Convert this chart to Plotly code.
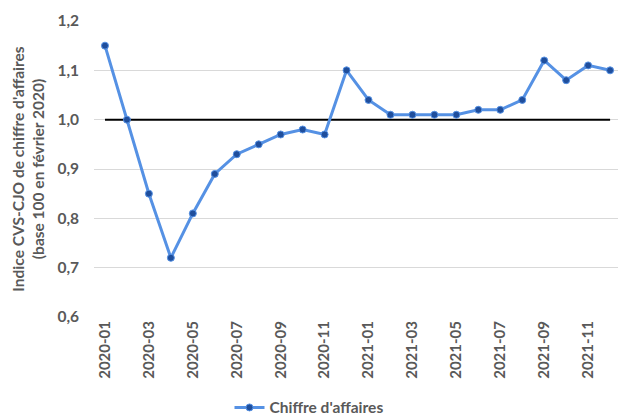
import plotly.graph_objects as go

months = ["2020-01","2020-02","2020-03","2020-04","2020-05","2020-06","2020-07","2020-08",
          "2020-09","2020-10","2020-11","2020-12","2021-01","2021-02","2021-03","2021-04",
          "2021-05","2021-06","2021-07","2021-08","2021-09","2021-10","2021-11","2021-12"]
ca = [1.15, 1.00, 0.85, 0.72, 0.81, 0.89, 0.93, 0.95, 0.97, 0.98, 0.97, 1.10,
      1.04, 1.01, 1.01, 1.01, 1.01, 1.02, 1.02, 1.04, 1.12, 1.08, 1.11, 1.10]
ref = [1.0] * len(months)
tick_labels = months[::2]

grey = "#595959"
fnt = "Lato"

fig = go.Figure()
fig.add_trace(go.Scatter(x=months, y=ref, mode="lines", line=dict(color="black", width=2),
                         showlegend=False, hoverinfo="skip"))
fig.add_trace(go.Scatter(x=months, y=ca, mode="lines+markers", name="Chiffre d'affaires",
                         line=dict(color="#5591E4", width=3),
                         marker=dict(color="#1F4E9C", size=7, line=dict(color="#5591E4", width=1))))

fig.update_layout(
    width=618, height=417,
    margin=dict(l=94, r=0, t=21, b=100, autoexpand=False),
    plot_bgcolor="white", paper_bgcolor="white",
    separators=", ",
    font=dict(family=fnt, color=grey, size=14),
    showlegend=True,
    legend=dict(orientation="h", x=0.5, xref="container", xanchor="center",
                y=-0.307, yref="paper", yanchor="middle",
                itemwidth=30,
                font=dict(family=fnt, size=15.5, color=grey, weight="bold")),
    xaxis=dict(type="category", range=[-0.5, 23.36], tickmode="array",
               tickvals=tick_labels, ticktext=tick_labels, tickangle=-90,
               tickfont=dict(family=fnt, size=15, color=grey, weight="bold"),
               showgrid=False, showline=False, ticks="", automargin=False),
    yaxis=dict(range=[0.6, 1.2], dtick=0.1, tickformat=".1f",
               tickfont=dict(family=fnt, size=15.5, color=grey, weight="bold"),
               showgrid=True, gridcolor="#d9d9d9", gridwidth=1, zeroline=False,
               ticks="", ticklabelstandoff=14, automargin=False,
               title=dict(text="Indice CVS-CJO de chiffre d'affaires<br>(base 100 en février 2020)",
                          font=dict(family=fnt, size=15.5, color=grey, weight="bold"), standoff=8)),
)

fig.write_html("out.html")
